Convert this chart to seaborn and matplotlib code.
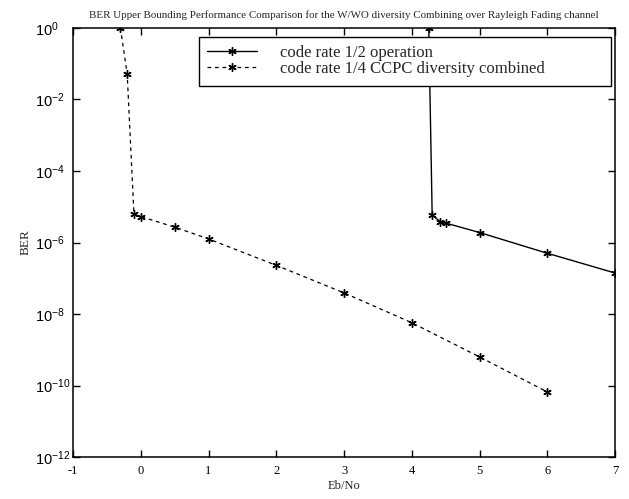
import numpy as np
import pandas as pd
import matplotlib
matplotlib.use("Agg")
import matplotlib.pyplot as plt
import seaborn as sns

# ----------- data -----------
ebno_half = [4.25, 4.3, 4.42, 4.5, 5, 6, 7]
ber_half = [1.0, 5.9e-6, 3.8e-6, 3.5e-6, 1.9e-6, 5.0e-7, 1.4e-7]

ebno_quarter = [-0.3, -0.2, -0.1, 0, 0.5, 1, 2, 3, 4, 5, 6]
ber_quarter = [1.0, 5.2e-2, 6.2e-6, 5.3e-6, 2.7e-6, 1.26e-6, 2.3e-7,
               3.9e-8, 5.7e-9, 6.3e-10, 6.6e-11]

labels = ["code rate 1/2 operation", "code rate 1/4 CCPC diversity combined"]
x_ticks = [-1, 0, 1, 2, 3, 4, 5, 6, 7]
y_exps = [0, -2, -4, -6, -8, -10, -12]

title = ("BER Upper Bounding Performance Comparison for the W/WO diversity "
         "Combining over Rayleigh Fading channel")

sns.set_style("ticks")
plt.rcParams["font.family"] = ["Liberation Serif", "DejaVu Serif"]
plt.rcParams["mathtext.default"] = "regular"

fig = plt.figure(figsize=(6.29, 4.99), dpi=100)
ax = fig.add_axes([0.116, 0.084, 0.862, 0.86])

star = (6, 2, 0)
df_half = pd.DataFrame({"ebno": ebno_half, "ber": ber_half})
df_quarter = pd.DataFrame({"ebno": ebno_quarter, "ber": ber_quarter})

sns.lineplot(data=df_half, x="ebno", y="ber", ax=ax, color="black",
             lw=1.0, marker=star, markersize=6, mew=1.0, mec="black",
             estimator=None, sort=False, label=labels[0])
sns.lineplot(data=df_quarter, x="ebno", y="ber", ax=ax, color="black",
             lw=0.9, ls=(0, (3, 3)), marker=star, markersize=6, mew=1.0,
             mec="black", estimator=None, sort=False, label=labels[1])

ax.set_yscale("log")
ax.set_xlim(-1, 7)
ax.set_ylim(1e-12, 1)
ax.set_xticks(x_ticks)
ax.set_xticklabels([str(t) for t in x_ticks], fontsize=9)
ax.set_yticks([10.0 ** e for e in y_exps])
ax.set_yticklabels([f"$10^{{{e}}}$" for e in y_exps], fontsize=10.5,
                   family=["Liberation Sans", "DejaVu Sans"], ha="left")
ax.yaxis.set_minor_locator(matplotlib.ticker.NullLocator())
ax.tick_params(direction="in", length=5, width=1, top=True, right=True,
               colors="black")
ax.tick_params(axis="x", pad=6)
ax.tick_params(axis="y", pad=27)
for sp in ax.spines.values():
    sp.set_visible(True)
    sp.set_linewidth(1.1)
    sp.set_color("black")

ax.set_xlabel("Eb/No", fontsize=9, labelpad=2)
ax.set_ylabel("BER", fontsize=9.5, labelpad=3)
ax.set_title(title, fontsize=7.9, pad=7)

leg = ax.legend(loc="upper left", bbox_to_anchor=(0.232, 0.979, 0.76, 0.0),
                mode="expand", fontsize=12, frameon=True, fancybox=False,
                edgecolor="black", framealpha=1, handlelength=3.0,
                handletextpad=1.4, labelspacing=0.0, borderpad=0.5,
                borderaxespad=0)
leg.get_frame().set_linewidth(1.0)

fig.savefig("out.png", dpi=100)
